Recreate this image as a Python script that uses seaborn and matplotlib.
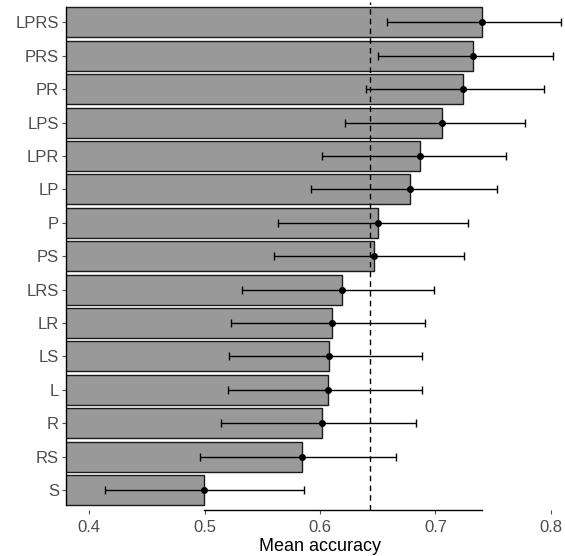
import matplotlib
matplotlib.use("Agg")
import matplotlib.pyplot as plt
import seaborn as sns
import numpy as np
import pandas as pd

models = ["LPRS", "PRS", "PR", "LPS", "LPR", "LP", "P", "PS",
          "LRS", "LR", "LS", "L", "R", "RS", "S"]
mean_acc = [0.7406, 0.7328, 0.7237, 0.7057, 0.6867, 0.6780, 0.6503, 0.6471,
            0.6191, 0.6104, 0.6081, 0.6072, 0.6017, 0.5841, 0.4997]
ci_low = [0.6581, 0.6500, 0.6401, 0.6214, 0.6015, 0.5925, 0.5639, 0.5604,
          0.5322, 0.5231, 0.5209, 0.5200, 0.5145, 0.4963, 0.4140]
ci_high = [0.8089, 0.8019, 0.7939, 0.7779, 0.7612, 0.7531, 0.7280, 0.7245,
           0.6991, 0.6907, 0.6886, 0.6881, 0.6829, 0.6661, 0.5859]
reference_line = 0.6433
x_ticks = [0.4, 0.5, 0.6, 0.7, 0.8]

df = pd.DataFrame({"model": models, "mean": mean_acc,
                   "low": ci_low, "high": ci_high})

sns.set_theme(style="white")
plt.rcParams["font.family"] = ["Liberation Sans", "DejaVu Sans"]

W, H = 565, 556
fig = plt.figure(figsize=(W / 100, H / 100), dpi=100)
left_px, right_px, top_px, bottom_px = 66, 573.9, 2.3, 510
ax = fig.add_axes([left_px / W, 1 - bottom_px / H,
                   (right_px - left_px) / W, (bottom_px - top_px) / H])

sns.barplot(data=df, x="mean", y="model", order=models, orient="h",
            color="#999999", edgecolor="#1a1a1a", linewidth=1.0,
            width=0.9, saturation=1, errorbar=None, ax=ax)

ypos = np.arange(len(models))
xerr = np.array([df["mean"] - df["low"], df["high"] - df["mean"]])
ax.errorbar(df["mean"], ypos, xerr=xerr, fmt="o", color="black",
            markersize=4, elinewidth=1.0, capsize=3.2, capthick=1.0, zorder=5)

ax.axvline(reference_line, color="black", linestyle=(0, (4, 3)),
           linewidth=1.0, zorder=4)

ax.set_xlim(0.38, 0.82)
ax.set_ylim(14.6, -0.6)
ax.set_xticks(x_ticks)
ax.set_xticklabels([f"{t:.1f}" for t in x_ticks])

for s in ["top", "right"]:
    ax.spines[s].set_visible(False)
ax.spines["left"].set_bounds(-0.45, 14.45)
ax.spines["bottom"].set_bounds(min(mean_acc), max(mean_acc))
for s in ["left", "bottom"]:
    ax.spines[s].set_color("black")
    ax.spines[s].set_linewidth(1.0)

ax.tick_params(axis="both", which="major", length=3, width=0.8,
               color="#4D4D4D", labelcolor="#4D4D4D", labelsize=12, pad=3)
ax.tick_params(axis="x", bottom=True, pad=4)
ax.tick_params(axis="y", left=True, pad=2)

ax.set_ylabel("")
ax.set_xlabel("Mean accuracy", fontsize=13, color="black")
ax.xaxis.set_label_coords(0.5, -0.056)

fig.savefig("out.png", dpi=100)
